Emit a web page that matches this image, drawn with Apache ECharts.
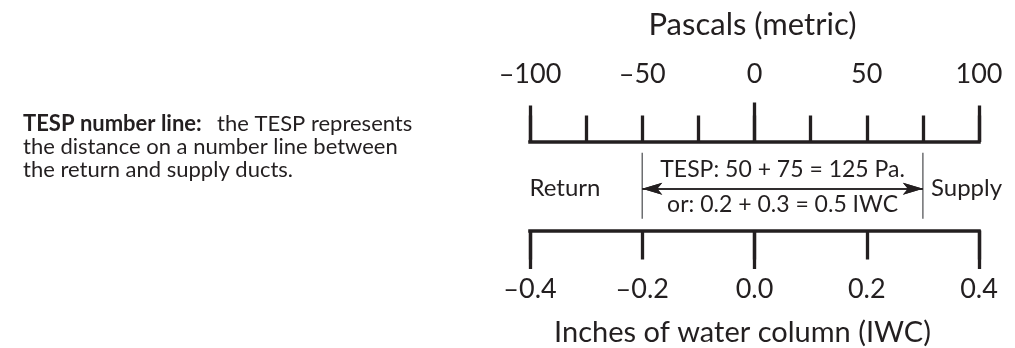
<!DOCTYPE html>
<html>
<head>
<meta charset="utf-8">
<script src="https://cdn.jsdelivr.net/npm/echarts@6/dist/echarts.min.js"></script>
<style>
  html, body { margin: 0; padding: 0; background: #ffffff; }
  #chart { width: 1015px; height: 348px; }
</style>
</head>
<body>
<div id="chart"></div>
<script>
// ---- data ----
const paRange = [-100, 100];
const paLabelStep = 50;
const paTickStep = 25;
const paZeroTick = [0];
const iwcRange = [-0.4, 0.4];
const iwcTickStep = 0.2;
const iwcMajorStep = 0.4;
const returnPa = -50;
const supplyPa = 75;
const returnIwc = -0.2;
const supplyIwc = 0.3;
const topAxisName = 'Pascals (metric)';
const bottomAxisName = 'Inches of water column (IWC)';
const returnLabel = 'Return';
const supplyLabel = 'Supply';
const noteBold = 'TESP number line:';
const noteLines = ['the TESP represents', 'the distance on a number line between', 'the return and supply ducts.'];

// ---- chart ----
const INK = '#231f20';
const FONT = 'Lato';
const dash = v => (v < 0 ? '\u2013' + Math.abs(v) : String(v));
const tespPa = supplyPa - returnPa;
const tespIwc = +(supplyIwc - returnIwc).toFixed(1);
const topText = `TESP: ${-returnPa} + ${supplyPa} = ${tespPa} Pa.`;
const bottomText = `or: ${(-returnIwc).toFixed(1)} + ${supplyIwc.toFixed(1)} = ${tespIwc.toFixed(1)} IWC`;

const chart = echarts.init(document.getElementById('chart'), null, { renderer: 'canvas' });

const baseX = (extra) => Object.assign({
  type: 'value',
  gridIndex: 0,
  splitLine: { show: false },
  axisLine: { show: false, onZero: false },
  axisLabel: { show: false },
  axisTick: { show: false }
}, extra);

const option = {
  animation: false,
  backgroundColor: '#ffffff',
  textStyle: { fontFamily: FONT, color: INK },
  grid: { left: 530, right: 36, top: 142, bottom: 116 },
  xAxis: [
    baseX({
      position: 'top', min: paRange[0], max: paRange[1], interval: paTickStep,
      axisLine: { show: true, onZero: false, lineStyle: { color: INK, width: 3.5, cap: 'square' } },
      axisTick: { show: true, inside: false, length: 26.5, lineStyle: { color: INK, width: 3.3 } },
      axisLabel: {
        show: true, margin: 68, verticalAlign: 'middle', fontSize: 27, color: INK, fontFamily: FONT,
        formatter: v => (v % paLabelStep === 0 ? dash(v) : '')
      },
      name: topAxisName, nameLocation: 'middle', nameGap: 117,
      nameTextStyle: { fontSize: 31, color: INK, fontFamily: FONT, verticalAlign: 'middle', padding: [0, 4, 0, 0] }
    }),
    baseX({
      position: 'top', min: paRange[0], max: paRange[1], interval: paRange[1] - paRange[0],
      axisTick: { show: true, length: 36.5, lineStyle: { color: INK, width: 3.3 } }
    }),
    baseX({
      position: 'top', min: paRange[0], max: paRange[1],
      axisTick: { show: true, length: 39.5, customValues: paZeroTick, lineStyle: { color: INK, width: 3.3 } }
    }),
    baseX({
      position: 'bottom', min: iwcRange[0], max: iwcRange[1], interval: iwcTickStep,
      axisLine: { show: true, onZero: false, lineStyle: { color: INK, width: 3.5, cap: 'square' } },
      axisTick: { show: true, length: 29, lineStyle: { color: INK, width: 3.3 } },
      axisLabel: {
        show: true, margin: 59, verticalAlign: 'middle', fontSize: 27, color: INK, fontFamily: FONT,
        formatter: v => (v < 0 ? '\u2013' + Math.abs(v).toFixed(1) : Math.abs(v).toFixed(1))
      },
      name: bottomAxisName, nameLocation: 'middle', nameGap: 102,
      nameTextStyle: { fontSize: 29, color: INK, fontFamily: FONT, verticalAlign: 'middle', padding: [0, 24, 0, 0] }
    }),
    baseX({
      position: 'bottom', min: iwcRange[0], max: iwcRange[1], interval: iwcMajorStep,
      axisTick: { show: true, length: 38.5, lineStyle: { color: INK, width: 3.3 } }
    })
  ],
  yAxis: [{ type: 'value', min: 0, max: 1, show: false }],
  series: [
    {
      name: 'bounds', type: 'custom', xAxisIndex: 0, yAxisIndex: 0, silent: true,
      data: [[returnPa], [supplyPa]],
      renderItem: (params, api) => {
        const x = api.coord([api.value(0), 0])[0];
        const y1 = api.coord([0, 0.878])[1];
        const y2 = api.coord([0, 0.133])[1];
        return { type: 'line', shape: { x1: x, y1: y1, x2: x, y2: y2 }, style: { stroke: '#6d6e71', lineWidth: 1.5 } };
      }
    },
    {
      name: 'tesp', type: 'line', xAxisIndex: 0, yAxisIndex: 0, data: [], silent: true,
      markLine: {
        silent: true,
        symbol: ['arrow', 'arrow'],
        symbolSize: [9, 20],
        lineStyle: { color: INK, width: 1.5, type: 'solid' },
        label: { show: true, color: INK, fontFamily: FONT, fontSize: 23 },
        data: [
          [
            { coord: [returnPa, 0.472], label: { position: 'insideMiddleTop', formatter: topText, distance: 8 } },
            { coord: [supplyPa, 0.472] }
          ],
          [
            { coord: [returnPa, 0.472], label: { position: 'insideMiddleBottom', formatter: bottomText, distance: 4 } },
            { coord: [supplyPa, 0.472] }
          ]
        ]
      }
    }
  ],
  graphic: [
    {
      type: 'text', silent: true, x: 565, y: 188,
      style: { text: returnLabel, font: `24px ${FONT}`, fill: INK, verticalAlign: 'middle', align: 'center' }
    },
    {
      type: 'text', silent: true, x: 931, y: 188,
      style: { text: supplyLabel, font: `24px ${FONT}`, fill: INK, verticalAlign: 'middle', align: 'left' }
    },
    {
      type: 'text', silent: true, x: 23, y: 112,
      style: {
        text: `{b|${noteBold}}  ${noteLines[0]}\n${noteLines[1]}\n${noteLines[2]}`,
        font: `22px ${FONT}`, fill: INK, lineHeight: 23,
        rich: { b: { fontWeight: 'bold', fontSize: 22, fontFamily: FONT, fill: INK, lineHeight: 23, padding: [0, 4, 0, 0] } }
      }
    }
  ]
};
chart.setOption(option);
</script>
</body>
</html>
